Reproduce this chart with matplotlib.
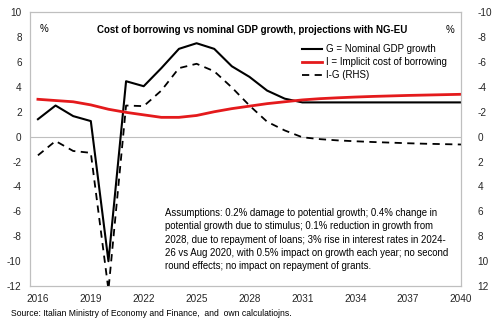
import numpy as np
import matplotlib
matplotlib.use("Agg")
import matplotlib.pyplot as plt

plt.rcParams["font.family"] = ["Liberation Sans", "DejaVu Sans"]
plt.rcParams["axes.unicode_minus"] = False

# ---------------------------------------------------------------
# Data (annual, 2016-2040)
# ---------------------------------------------------------------
years = np.arange(2016, 2041)
g_nominal = [1.4, 2.5, 1.65, 1.25, -10.0, 4.45, 4.05, 5.5, 7.05, 7.5, 7.05, 5.65, 4.8,
             3.7, 3.05, 2.75, 2.75, 2.75, 2.75, 2.75, 2.75, 2.75, 2.75, 2.75, 2.75]
i_cost = [3.0, 2.9, 2.8, 2.55, 2.2, 1.95, 1.75, 1.55, 1.55, 1.7, 2.0, 2.25, 2.45,
          2.65, 2.8, 2.95, 3.05, 3.12, 3.18, 3.23, 3.27, 3.31, 3.34, 3.37, 3.4]
i_minus_g = [1.5, 0.35, 1.15, 1.3, 12.3, -2.5, -2.45, -3.7, -5.5, -5.85, -5.25, -3.95, -2.5,
             -1.2, -0.5, 0.05, 0.2, 0.3, 0.37, 0.43, 0.48, 0.53, 0.57, 0.6, 0.63]
xtick_years = list(range(2016, 2041, 3))

title = "Cost of borrowing vs nominal GDP growth, projections with NG-EU"
note = ("Assumptions: 0.2% damage to potential growth; 0.4% change in\n"
        "potential growth due to stimulus; 0.1% reduction in growth from\n"
        "2028, due to repayment of loans; 3% rise in interest rates in 2024-\n"
        "26 vs Aug 2020, with 0.5% impact on growth each year; no second\n"
        "round effects; no impact on repayment of grants.")
source = "Source: Italian Ministry of Economy and Finance,  and  own calculatiojns."

grey = "#bfbfbf"

fig = plt.figure(figsize=(5.0, 3.27), dpi=100)
ax = fig.add_axes([0.06, 0.125, 0.862, 0.838])
ax2 = ax.twinx()

l1, = ax.plot(years, g_nominal, color="black", lw=1.5, label="G = Nominal GDP growth")
l2, = ax.plot(years, i_cost, color="#e41a1c", lw=2.0, label="I = Implicit cost of borrowing")
l3, = ax2.plot(years, i_minus_g, color="black", lw=1.3, ls=(0, (4, 3)), label="I-G (RHS)")
ax.axhline(0, color=grey, lw=0.8, zorder=0)

ax.set_xlim(2015.55, 2040)
ax.set_ylim(-12, 10)
ax2.set_ylim(12, -10)
ax.set_yticks(range(-12, 11, 2))
ax2.set_yticks(range(-10, 13, 2))
ax.set_xticks(xtick_years)

for a in (ax, ax2):
    for s in a.spines.values():
        s.set_color(grey)
        s.set_linewidth(0.8)
    a.tick_params(length=0, labelsize=7.2, colors="#262626")
ax.tick_params(axis="y", pad=6)
ax2.tick_params(axis="y", pad=12)
ax.tick_params(axis="x", pad=6)

ax.text(0.515, 0.935, title, transform=ax.transAxes, ha="center", va="center",
        fontsize=7.0, fontweight="bold")
ax.text(0.022, 0.94, "%", transform=ax.transAxes, ha="left", va="center", fontsize=7)
ax.text(0.985, 0.935, "%", transform=ax.transAxes, ha="right", va="center", fontsize=7)

ax.legend(handles=[l1, l2, l3], loc="upper right", bbox_to_anchor=(0.98, 0.905),
          frameon=False, fontsize=7, handlelength=2.0, handletextpad=0.4,
          labelspacing=0.33, borderaxespad=0.2)

ax.text(0.313, 0.285, note, transform=ax.transAxes, ha="left", va="top",
        fontsize=6.9, linespacing=1.42)
fig.text(0.022, 0.04, source, ha="left", va="center", fontsize=6.2)

fig.savefig("out.png", dpi=100)
